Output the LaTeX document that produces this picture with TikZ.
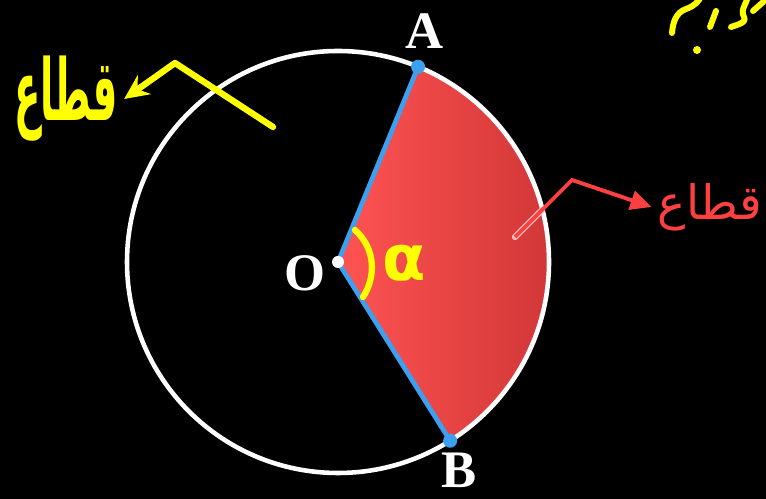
\documentclass[tikz,border=0pt]{standalone}
\usepackage{fontspec}
\setmainfont{Liberation Serif}
\newfontfamily\arabicfont[Script=Arabic]{DejaVu Sans}
\TeXXeTstate=1
\usetikzlibrary{arrows.meta, calc}
\definecolor{sectorred}{RGB}{255,64,64}
\definecolor{radiusblue}{RGB}{59,160,240}
\definecolor{penyellow}{RGB}{255,255,0}
\tikzset{
    pointlabel/.style = {text=white, inner sep=1pt, font=\fontsize{30}{30}\selectfont\bfseries},
    radiusline/.style = {radiusblue, line width=2.7pt, line cap=round},
    pen/.style = {penyellow, line width=3.6pt, line cap=round, line join=round},
    redarrow/.style = {sectorred, line width=2.2pt, -{Triangle[length=12pt,width=11pt]}}
}

\begin{document}
\begin{tikzpicture}[x=0.02cm, y=0.02cm]
\fill[black] (0,0) rectangle (766,499);
\useasboundingbox (0,0) rectangle (766,499);
\clip (0,0) rectangle (766,499);

\coordinate (o) at (338,237);
\coordinate (a) at ($(o)+(67.7:211)$);
\coordinate (b) at ($(o)+(-57.9:211)$);

% sector
\shade[left color=sectorred!90!white, right color=sectorred!80!black]
    (o) -- (a) arc (67.7:-57.9:211) -- cycle;
\draw[white, line width=2.6pt] (o) circle (211);

\draw[radiusline] (a) -- (o) -- (b);
\fill[radiusblue] (a) circle (7);
\fill[radiusblue] (b) circle (7);
\fill[white] (o) circle (6);

\node[pointlabel] (alabel) at (425,468) {A};
\node[pointlabel] (blabel) at (459,29) {B};
\node[pointlabel] (olabel) at (305,226) {O};

% red label
\node[text=sectorred, font=\fontsize{27}{27}\selectfont\arabicfont] (sectorname) at (710,292) {\beginR قطاع\endR};
\coordinate (rstart) at (515,262);
\coordinate (rcross) at (542,289);
\coordinate (rcorner) at (572,319);
\draw[red!25!white, line width=3.6pt, line cap=round] (rstart) -- (rcross);
\draw[redarrow] (rstart) -- (rcorner) -- (sectorname.west);

% yellow marks
\draw[pen] (355,269) .. controls (376,250) and (376,222) .. (363,202);
\node[text=penyellow, font=\fontsize{36}{36}\selectfont\arabicfont\bfseries] (angle) at (404,236) {α};

\node[text=penyellow, font=\fontsize{22}{22}\selectfont\arabicfont\bfseries, yscale=2.2, transform shape] (majorname) at (66,400) {\beginR قطاع\endR};
\coordinate (ystart) at (273,372);
\coordinate (ycorner) at (175,436);
\draw[pen, -{Stealth[length=14pt,width=13pt]}] (ystart) -- (ycorner) -- (majorname.east);

% cut-off note at top right
\draw[pen, line width=3.4pt] (672,466) to[out=85,in=200] (686,490) to[out=20,in=250] (702,505);
\draw[pen, line width=3.4pt] (710,472) -- (716,488);
\draw[pen, line width=3.4pt] (731,472) to[out=20,in=-60] (744,482) to[out=120,in=-90] (748,505);
\draw[pen, line width=3.4pt] (753,488) -- (770,503);
\fill[penyellow] (697,449) circle (4);
\end{tikzpicture}
\end{document}
